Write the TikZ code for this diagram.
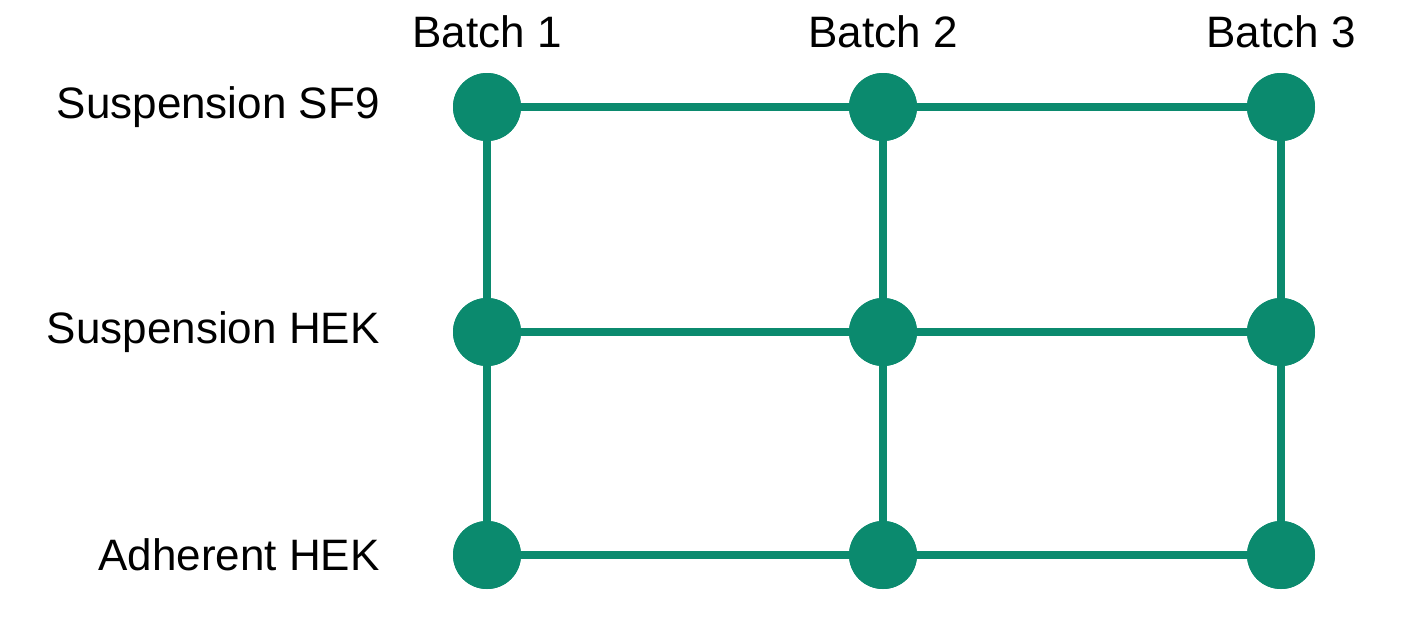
\documentclass[tikz,border=0pt]{standalone}
\usepackage{fontspec}
\setmainfont{Liberation Sans}
\definecolor{grn}{HTML}{0B8A6E}
\begin{document}
\begin{tikzpicture}[x=0.5pt,y=-0.5pt,
  dot/.style={circle,fill=grn,minimum size=34pt,inner sep=0pt},
  edge/.style={draw=grn,line width=4pt},
  lab/.style={font=\fontsize{22}{26}\selectfont,inner sep=0pt}]
\useasboundingbox (0,0) rectangle (1415,632);
\foreach \c/\x in {1/487,2/883,3/1281}{
  \node[lab] (b\c) at (\x,32) {Batch \c};
  \foreach \r/\y in {1/107,2/332,3/555}{
    \node[dot] (n\r\c) at (\x,\y) {};
  }
}
\node[lab,anchor=east] (l1) at (380,107) {Suspension SF9};
\node[lab,anchor=east] (l2) at (380,332) {Suspension HEK};
\node[lab,anchor=east] (l3) at (380,555) {Adherent HEK};
\begin{scope}[on background layer/.try]
\foreach \r in {1,2,3}{\draw[edge] (n\r1.center) -- (n\r2.center) -- (n\r3.center);}
\foreach \c in {1,2,3}{\draw[edge] (n1\c.center) -- (n2\c.center) -- (n3\c.center);}
\end{scope}
\foreach \c/\x in {1/487,2/883,3/1281}{\foreach \r/\y in {1/107,2/332,3/555}{\fill[grn] (\x,\y) circle (17pt);}}
\end{tikzpicture}
\end{document}
